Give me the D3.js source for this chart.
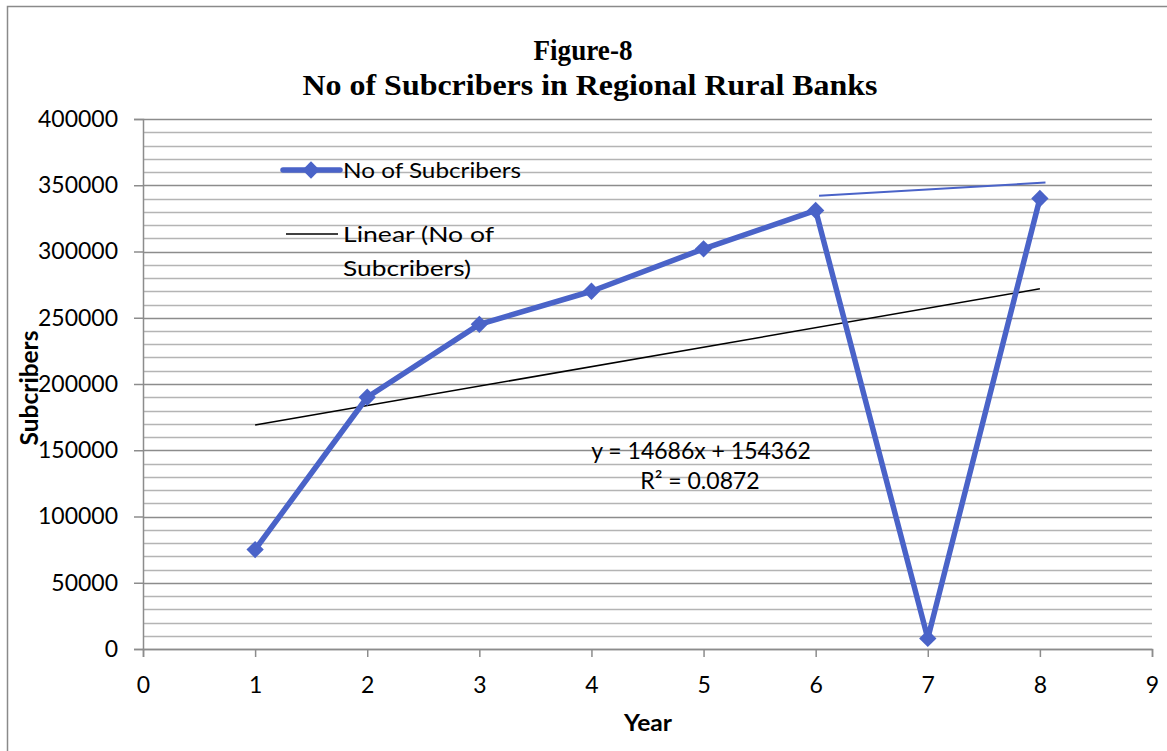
<!DOCTYPE html>
<html>
<head>
<meta charset="utf-8">
<script src="https://cdn.jsdelivr.net/npm/d3@7"></script>
<style>
  html, body { margin: 0; padding: 0; background: #fff; }
  svg { display: block; }
</style>
</head>
<body>
<svg id="chart" width="1167" height="751"></svg>
<script>
// Subscriber counts by year
const years = [1, 2, 3, 4, 5, 6, 7, 8];
const subscribers = [75000, 190000, 245000, 270000, 302000, 331000, 8000, 340000];

// Linear trendline coefficients (as printed on the chart)
const trendSlope = 14686;
const trendIntercept = 154362;
const trendR2 = "0.0872";

// Short stray segment drawn above the series between years 6 and 8
const strokeX = [6.03, 8.05];
const strokeY = [342000, 352000];

// Axis ticks
const xTicks = [0, 1, 2, 3, 4, 5, 6, 7, 8, 9];
const yTicks = [0, 50000, 100000, 150000, 200000, 250000, 300000, 350000, 400000];
const yMinorTicks = d3.range(0, 400001, 10000);

const titleLines = ["Figure-8", "No of Subcribers in Regional Rural Banks"];

const blue = "#4a63c8";
const gridMinor = "#b4b4b4";
const gridMajor = "#8c8c8c";
const sans = "Lato, 'Open Sans', sans-serif";

const svg = d3.select("#chart");

// Outer frame
svg.append("path")
  .attr("d", "M7.5,751 L7.5,6.5 L1167,6.5")
  .attr("fill", "none").attr("stroke", "#8a8a8a").attr("stroke-width", 1.5);

const x = d3.scaleLinear().domain([0, 9]).range([143, 1152]);
const y = d3.scaleLinear().domain([0, 400000]).range([649, 119]);

// Gridlines
svg.append("g").selectAll("line").data(yMinorTicks).join("line")
  .attr("x1", x(0)).attr("x2", x(9))
  .attr("y1", d => Math.round(y(d)) + 0.5).attr("y2", d => Math.round(y(d)) + 0.5)
  .attr("stroke", d => d % 50000 === 0 ? gridMajor : gridMinor)
  .attr("stroke-width", 1.5);

// Y axis
const yAxis = svg.append("g")
  .attr("transform", `translate(${x(0)},0)`)
  .call(d3.axisLeft(y).tickValues(yTicks).tickSize(9).tickPadding(16).tickFormat(d3.format("d")));
yAxis.select(".domain").attr("stroke", gridMajor).attr("stroke-width", 1.5);
yAxis.selectAll(".tick line").attr("stroke", gridMajor).attr("stroke-width", 1.5);
yAxis.selectAll("text").attr("font-family", sans).attr("font-size", 23).attr("fill", "#000");

// X axis
const xAxis = svg.append("g")
  .attr("transform", `translate(0,${y(0)})`)
  .call(d3.axisBottom(x).tickValues(xTicks).tickSize(8).tickPadding(20).tickFormat(d3.format("d")));
xAxis.select(".domain").attr("stroke", gridMajor).attr("stroke-width", 1.5);
xAxis.selectAll(".tick line").attr("stroke", gridMajor).attr("stroke-width", 1.5);
xAxis.selectAll("text").attr("font-family", sans).attr("font-size", 23).attr("fill", "#000");

// Trendline across the data range
const trend = d => trendSlope * d + trendIntercept;
const xExt = d3.extent(years);
svg.append("line")
  .attr("x1", x(xExt[0])).attr("y1", y(trend(xExt[0])))
  .attr("x2", x(xExt[1])).attr("y2", y(trend(xExt[1])))
  .attr("stroke", "#000").attr("stroke-width", 1.5);

// Thin blue segment
svg.append("line")
  .attr("x1", x(strokeX[0])).attr("y1", y(strokeY[0]))
  .attr("x2", x(strokeX[1])).attr("y2", y(strokeY[1]))
  .attr("stroke", blue).attr("stroke-width", 2);

// Series line
const pts = years.map((d, i) => [d, subscribers[i]]);
svg.append("path")
  .datum(pts)
  .attr("d", d3.line().x(d => x(d[0])).y(d => y(d[1])))
  .attr("fill", "none").attr("stroke", blue).attr("stroke-width", 5.5)
  .attr("stroke-linejoin", "round");

// Diamond markers
const diamond = d3.symbol().type(d3.symbolSquare).size(150);
svg.append("g").selectAll("path").data(pts).join("path")
  .attr("d", diamond)
  .attr("transform", d => `translate(${x(d[0])},${y(d[1])}) rotate(45)`)
  .attr("fill", blue);

// Trendline equation
const eq = svg.append("text")
  .attr("font-family", sans).attr("font-size", 23).attr("fill", "#000")
  .attr("text-anchor", "middle");
eq.append("tspan").attr("x", 701).attr("y", 459).text(`y = ${trendSlope}x + ${trendIntercept}`);
eq.append("tspan").attr("x", 700).attr("y", 489).text(`R² = ${trendR2}`);

// Legend
const legendFont = 22;
const lg = svg.append("g").attr("font-family", sans).attr("font-size", legendFont);
lg.append("line").attr("x1", 283).attr("x2", 340).attr("y1", 170).attr("y2", 170)
  .attr("stroke", blue).attr("stroke-width", 5.5).attr("stroke-linecap", "round");
lg.append("path").attr("d", diamond)
  .attr("transform", "translate(311,170) rotate(45)").attr("fill", blue);
lg.append("text").attr("x", 343).attr("y", 178)
  .attr("textLength", 178).attr("lengthAdjust", "spacingAndGlyphs").text("No of Subcribers");
lg.append("line").attr("x1", 286).attr("x2", 338).attr("y1", 234).attr("y2", 234)
  .attr("stroke", "#000").attr("stroke-width", 1.5);
lg.append("text").attr("x", 343).attr("y", 242)
  .attr("textLength", 151).attr("lengthAdjust", "spacingAndGlyphs").text("Linear (No of");
lg.append("text").attr("x", 343).attr("y", 276)
  .attr("textLength", 128).attr("lengthAdjust", "spacingAndGlyphs").text("Subcribers)");

// Title
const title = svg.append("text")
  .attr("font-family", "'Liberation Serif', 'Times New Roman', serif")
  .attr("font-weight", "bold").attr("font-size", 30).attr("text-anchor", "middle");
title.append("tspan").attr("x", 583).attr("y", 60)
  .attr("textLength", 99).attr("lengthAdjust", "spacingAndGlyphs").text(titleLines[0]);
title.append("tspan").attr("x", 590).attr("y", 95)
  .attr("textLength", 575).attr("lengthAdjust", "spacingAndGlyphs").text(titleLines[1]);

// Axis titles
svg.append("text")
  .attr("transform", "translate(38,388) rotate(-90)")
  .attr("text-anchor", "middle")
  .attr("font-family", sans).attr("font-weight", "bold").attr("font-size", 24)
  .attr("textLength", 115).attr("lengthAdjust", "spacingAndGlyphs")
  .text("Subcribers");
svg.append("text")
  .attr("x", 648).attr("y", 731).attr("text-anchor", "middle")
  .attr("font-family", sans).attr("font-weight", "bold").attr("font-size", 23)
  .attr("textLength", 48).attr("lengthAdjust", "spacingAndGlyphs")
  .text("Year");
</script>
</body>
</html>
